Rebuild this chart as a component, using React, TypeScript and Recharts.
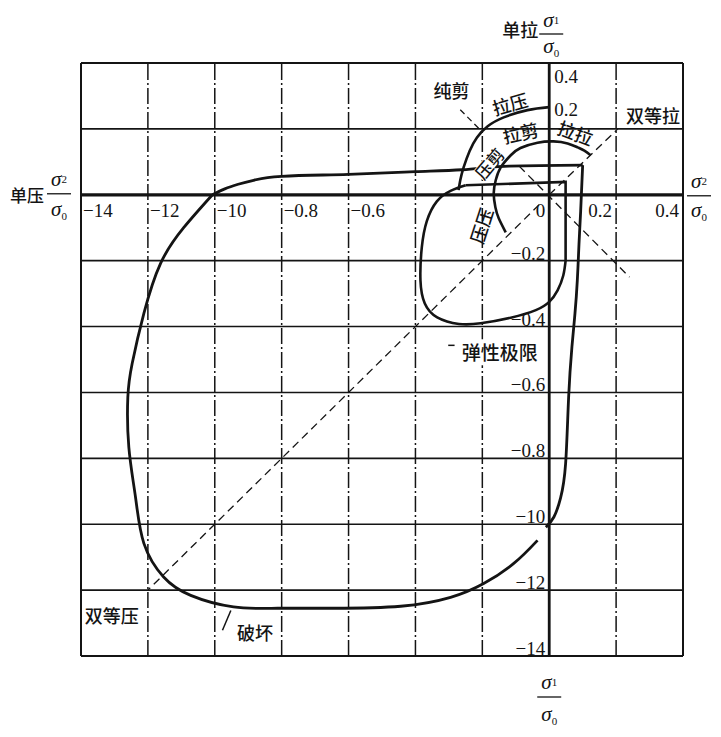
import { ComposedChart, Line, Scatter, XAxis, YAxis, ReferenceLine } from "recharts";

type Pt = { x: number; y: number };
const pts = (rows: number[][]): Pt[] => rows.map(([x, y]) => ({ x, y }));

// grid every 0.2 of σ/σ0
const GRID = [-1.4, -1.2, -1.0, -0.8, -0.6, -0.4, -0.2, 0, 0.2, 0.4];
// printed tick labels (kept as in the source, "−14" etc.)
const X_LABELED = [-1.4, -1.2, -1.0, -0.8, -0.6, 0, 0.2, 0.4];
const X_LABELS = ["−14", "−12", "−10", "−0.8", "−0.6", "0", "0.2", "0.4"];
const Y_LABELED = [0.4, 0.2, -0.2, -0.4, -0.6, -0.8, -1.0, -1.2, -1.4];
const Y_LABELS = ["0.4", "0.2", "−0.2", "−0.4", "−0.6", "−0.8", "−10", "−12", "−14"];

// failure envelope (破坏)
const FAIL_TOP = pts([
  [-1.007, 0], [-0.97, 0.018], [-0.93, 0.032], [-0.884, 0.044], [-0.842, 0.052],
  [-0.8, 0.056], [-0.6, 0.062], [-0.4, 0.07], [-0.26, 0.076], [-0.12, 0.087], [0.1, 0.09],
]);
const FAIL_RIGHT = pts([
  [0.1, 0.09], [0.094, -0.05], [0.089, -0.15], [0.084, -0.26], [0.077, -0.36], [0.068, -0.46],
  [0.058, -0.615], [0.049, -0.816], [0.034, -0.92], [0.014, -0.978], [-0.01, -1.009],
]);
const FAIL_LOOP = pts([
  [-0.035, -1.049], [-0.106, -1.119], [-0.196, -1.18], [-0.295, -1.222], [-0.444, -1.249],
  [-0.644, -1.255], [-0.812, -1.255], [-0.944, -1.251], [-1.072, -1.216], [-1.153, -1.16],
  [-1.212, -1.058], [-1.237, -0.918], [-1.257, -0.766], [-1.26, -0.615], [-1.247, -0.512],
  [-1.212, -0.36], [-1.162, -0.208], [-1.093, -0.1], [-1.007, 0],
]);

// elastic limit (弹性极限)
const ELASTIC_EDGE = pts([[-0.25, 0.029], [0.049, 0.039], [0.049, -0.2]]);
const ELASTIC_LOOP = pts([
  [0.049, -0.2], [0.042, -0.245], [0.025, -0.29], [0.0, -0.325], [-0.04, -0.35],
  [-0.115, -0.373], [-0.205, -0.39], [-0.27, -0.392], [-0.335, -0.372], [-0.372, -0.33],
  [-0.385, -0.26], [-0.381, -0.16], [-0.366, -0.08], [-0.336, -0.02], [-0.295, 0.012], [-0.25, 0.029],
]);

// region arcs
const ARC_OUTER = pts([
  [0, 0.266], [-0.065, 0.257], [-0.136, 0.235], [-0.184, 0.208], [-0.216, 0.174],
  [-0.238, 0.133], [-0.256, 0.083], [-0.266, 0.044], [-0.271, 0.014],
]);
const ARC_INNER = pts([
  [0.124, 0.12], [0.105, 0.134], [0.085, 0.144], [0.055, 0.156], [0.013, 0.162],
  [-0.035, 0.158], [-0.086, 0.142], [-0.115, 0.12], [-0.145, 0.083], [-0.16, 0.044],
  [-0.166, 0.005], [-0.161, -0.038], [-0.151, -0.071], [-0.13, -0.114],
]);

// dashed stress paths
const SHEAR_LEADER = pts([[-0.266, 0.258], [-0.211, 0.202]]);
const SHEAR_PATH = pts([[-0.09, 0.087], [0.24, -0.25]]);
const EQ_TENSION = pts([[0, 0], [0.205, 0.2]]);
const EQ_COMPRESSION = pts([[-0.03, -0.03], [-1.2, -1.2]]);
const BREAK_LEADER = pts([[-0.952, -1.262], [-0.977, -1.322]]);
const ELASTIC_LEADER = pts([[-0.302, -0.457], [-0.283, -0.457]]);

const INK = "#141414";
const SERIF = '"Liberation Serif", "Times New Roman", serif';
const CJK = '"Noto Sans CJK SC", "Noto Sans", sans-serif';

const W = 713;
const H = 725;
const MARGIN = { top: 55, left: 73, right: 38, bottom: 77 };

const NOTES = [
  { text: "纯剪", x: -0.292, y: 0.317, rot: 0, size: 18, mask: false },
  { text: "拉压", x: -0.118, y: 0.278, rot: -16, size: 18, mask: false },
  { text: "拉剪", x: -0.086, y: 0.19, rot: -12, size: 18, mask: false },
  { text: "压剪", x: -0.18, y: 0.096, rot: -50, size: 17, mask: true },
  { text: "拉拉", x: 0.079, y: 0.19, rot: 20, size: 18, mask: false },
  { text: "压压", x: -0.205, y: -0.093, rot: -72, size: 18, mask: false },
  { text: "双等拉", x: 0.31, y: 0.241, rot: 0, size: 18, mask: false },
  { text: "双等压", x: -1.308, y: -1.277, rot: 0, size: 18, mask: false },
  { text: "破坏", x: -0.88, y: -1.328, rot: 0, size: 18, mask: false },
];

const mark = (key: string, x: number, y: number, draw: (cx: number, cy: number) => any) => (
  <Scatter
    key={key}
    data={[{ x, y }]}
    isAnimationActive={false}
    legendType="none"
    shape={(p: any) => <g>{draw(p.cx, p.cy)}</g>}
  />
);

const frac = (cx: number, bar: number, sub: string, numGap: number, denGap: number) => (
  <>
    <text x={cx} y={bar - numGap} textAnchor="middle" fontFamily={SERIF} fontStyle="italic" fontSize={21} fill={INK}>
      σ<tspan fontSize={11} fontStyle="normal" dy={-3}>{sub}</tspan>
    </text>
    <line x1={cx - 12} x2={cx + 12} y1={bar} y2={bar} stroke={INK} strokeWidth={1.3} />
    <text x={cx} y={bar + denGap} textAnchor="middle" fontFamily={SERIF} fontStyle="italic" fontSize={21} fill={INK}>
      σ<tspan fontSize={11} fontStyle="normal" dy={4}>0</tspan>
    </text>
  </>
);

export default function App() {
  const line = { dot: false, activeDot: false, isAnimationActive: false, legendType: "none" as const, stroke: INK };
  return (
    <div style={{ width: W, height: H, background: "#fff" }}>
      <ComposedChart width={W} height={H} margin={MARGIN}>
        <XAxis type="number" dataKey="x" domain={[-1.4, 0.4]} hide />
        <YAxis type="number" dataKey="y" domain={[-1.4, 0.4]} hide />

        {GRID.slice(1, -1).map((v) => (
          <ReferenceLine key={`gx${v}`} x={v} stroke={INK} strokeWidth={1.5} strokeDasharray="16 3 2 3" />
        ))}
        {GRID.slice(1, -1).map((v) => (
          <ReferenceLine key={`gy${v}`} y={v} stroke={INK} strokeWidth={1.6} />
        ))}
        <ReferenceLine x={-1.4} stroke={INK} strokeWidth={2} />
        <ReferenceLine x={0.4} stroke={INK} strokeWidth={2} />
        <ReferenceLine y={0.4} stroke={INK} strokeWidth={2.2} />
        <ReferenceLine y={-1.4} stroke={INK} strokeWidth={2.2} />
        <ReferenceLine y={0} stroke={INK} strokeWidth={3.2} />
        <ReferenceLine x={0} stroke={INK} strokeWidth={2.8} />

        <Line {...line} data={EQ_COMPRESSION} dataKey="y" type="linear" strokeWidth={1.3} strokeDasharray="8 5" />
        <Line {...line} data={EQ_TENSION} dataKey="y" type="linear" strokeWidth={1.3} strokeDasharray="8 5" />
        <Line {...line} data={SHEAR_PATH} dataKey="y" type="linear" strokeWidth={1.3} strokeDasharray="8 5" />
        <Line {...line} data={SHEAR_LEADER} dataKey="y" type="linear" strokeWidth={1.3} strokeDasharray="6 4" />

        <Line {...line} data={FAIL_TOP} dataKey="y" type="monotone" strokeWidth={2.8} />
        <Line {...line} data={FAIL_RIGHT} dataKey="y" type="natural" strokeWidth={2.8} />
        <Line {...line} data={FAIL_LOOP} dataKey="y" type="natural" strokeWidth={2.8} />
        <Line {...line} data={ELASTIC_EDGE} dataKey="y" type="linear" strokeWidth={2.6} />
        <Line {...line} data={ELASTIC_LOOP} dataKey="y" type="natural" strokeWidth={2.6} />
        <Line {...line} data={ARC_OUTER} dataKey="y" type="natural" strokeWidth={2.6} />
        <Line {...line} data={ARC_INNER} dataKey="y" type="natural" strokeWidth={2.6} />
        <Line {...line} data={BREAK_LEADER} dataKey="y" type="linear" strokeWidth={1.5} />
        <Line {...line} data={ELASTIC_LEADER} dataKey="y" type="linear" strokeWidth={1.5} />

        {X_LABELED.map((v, i) =>
          mark(`xl${v}`, v, 0, (cx, cy) => (
            <text
              x={v < 0 ? cx + 2 : cx - 4}
              y={cy + 22}
              textAnchor={v < 0 ? "start" : "end"}
              fontFamily={SERIF}
              fontSize={19}
              fill={INK}
            >
              {X_LABELS[i]}
            </text>
          ))
        )}
        {Y_LABELED.map((v, i) =>
          mark(`yl${v}`, 0, v, (cx, cy) => (
            <text
              x={v > 0 ? cx + 5 : cx - 4}
              y={v > 0.3 ? cy + 20 : v > 0 ? cy - 13 : cy - 1}
              textAnchor={v > 0 ? "start" : "end"}
              fontFamily={SERIF}
              fontSize={19}
              fill={INK}
            >
              {Y_LABELS[i]}
            </text>
          ))
        )}

        {NOTES.map((n) =>
          mark(`n${n.text}`, n.x, n.y, (cx, cy) => (
            <g transform={n.rot ? `rotate(${n.rot} ${cx} ${cy})` : undefined}>
              {n.mask && <rect x={cx - 17} y={cy - 7} width={34} height={14} fill="#fff" />}
              <text
                x={cx}
                y={cy}
                textAnchor="middle"
                dominantBaseline="central"
                fontFamily={CJK}
                fontSize={n.size}
                fontWeight={500}
                fill={INK}
              >
                {n.text}
              </text>
            </g>
          ))
        )}
        {mark("elastic", -0.148, -0.475, (cx, cy) => (
          <>
            <rect x={cx - 42} y={cy - 12} width={84} height={26} fill="#fff" />
            <text x={cx} y={cy} textAnchor="middle" dominantBaseline="central" fontFamily={CJK} fontSize={19} fontWeight={500} fill={INK}>
              弹性极限
            </text>
          </>
        ))}

        {mark("top", 0, 0.4, (cx, cy) => (
          <>
            <text x={cx - 11} y={cy - 26} textAnchor="end" fontFamily={CJK} fontSize={18} fontWeight={500} fill={INK}>单拉</text>
            {frac(cx + 2, cy - 29, "1", 7, 19)}
          </>
        ))}
        {mark("left", -1.4, 0, (cx, cy) => (
          <>
            <text x={cx - 37} y={cy + 7} textAnchor="end" fontFamily={CJK} fontSize={17} fontWeight={500} fill={INK}>单压</text>
            {frac(cx - 22, cy - 1, "2", 8, 22)}
          </>
        ))}
        {mark("right", 0.4, 0, (cx, cy) => frac(cx + 16, cy + 1, "2", 8, 21))}
        {mark("bottom", 0, -1.4, (cx, cy) => frac(cx, cy + 41, "1", 8, 24))}
      </ComposedChart>
    </div>
  );
}
